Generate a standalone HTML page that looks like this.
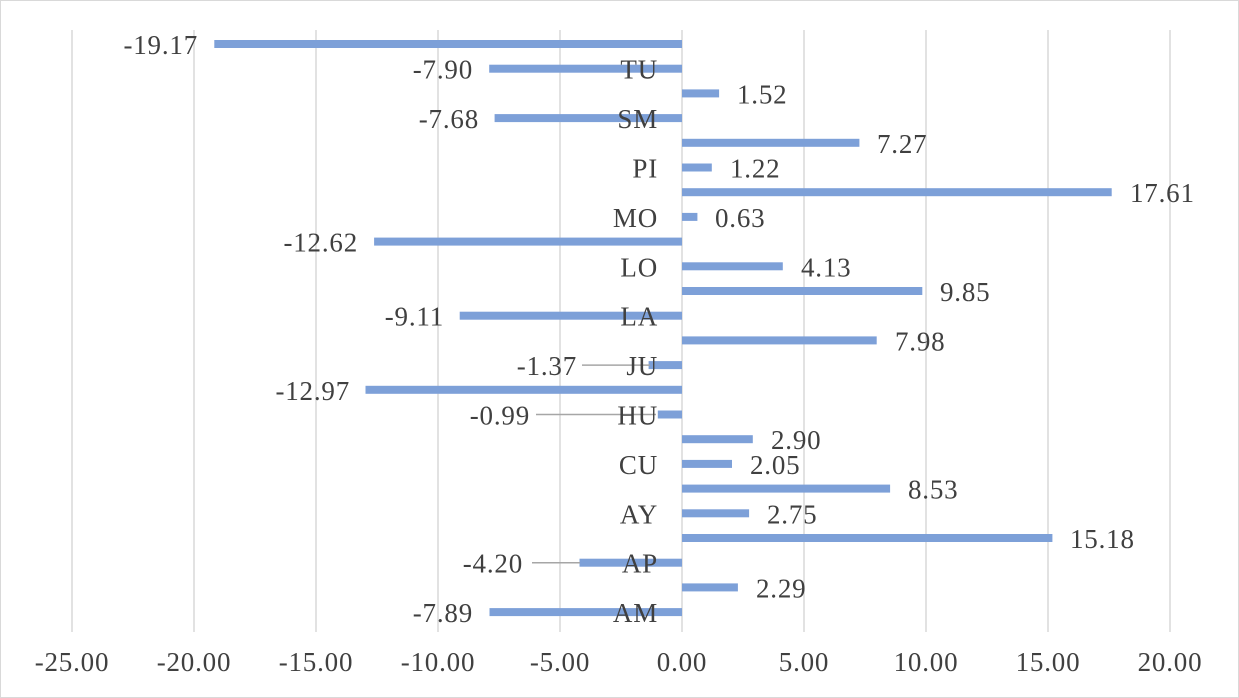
<!DOCTYPE html>
<html><head><meta charset="utf-8"><style>body{margin:0;background:#fff}svg{display:block}</style></head><body>
<svg width="1239" height="698" xmlns="http://www.w3.org/2000/svg" font-family="Liberation Serif, serif" font-size="27" letter-spacing="0.8" fill="#404040">
<rect x="0.5" y="0.5" width="1238" height="697" fill="#fff" stroke="#d9d9d9"/>
<g stroke="#d9d9d9" stroke-width="1.5">
<line x1="72" y1="30" x2="72" y2="632"/><line x1="194" y1="30" x2="194" y2="632"/><line x1="316" y1="30" x2="316" y2="632"/><line x1="438" y1="30" x2="438" y2="632"/><line x1="560" y1="30" x2="560" y2="632"/><line x1="682" y1="30" x2="682" y2="632"/><line x1="804" y1="30" x2="804" y2="632"/><line x1="926" y1="30" x2="926" y2="632"/><line x1="1048" y1="30" x2="1048" y2="632"/><line x1="1170" y1="30" x2="1170" y2="632"/>
</g>
<g text-anchor="middle">
<text x="72" y="671">-25.00</text><text x="194" y="671">-20.00</text><text x="316" y="671">-15.00</text><text x="438" y="671">-10.00</text><text x="560" y="671">-5.00</text><text x="682" y="671">0.00</text><text x="804" y="671">5.00</text><text x="926" y="671">10.00</text><text x="1048" y="671">15.00</text><text x="1170" y="671">20.00</text>
</g>
<g fill="#7da0d8">
<rect x="214.3" y="40" width="467.7" height="8"/>
<rect x="489.2" y="64.7" width="192.8" height="8"/>
<rect x="682" y="89.4" width="37.1" height="8"/>
<rect x="494.6" y="114.1" width="187.4" height="8"/>
<rect x="682" y="138.8" width="177.4" height="8"/>
<rect x="682" y="163.5" width="29.8" height="8"/>
<rect x="682" y="188.2" width="429.7" height="8"/>
<rect x="682" y="212.9" width="15.4" height="8"/>
<rect x="374.1" y="237.6" width="307.9" height="8"/>
<rect x="682" y="262.3" width="100.8" height="8"/>
<rect x="682" y="287" width="240.3" height="8"/>
<rect x="459.7" y="311.7" width="222.3" height="8"/>
<rect x="682" y="336.4" width="194.7" height="8"/>
<rect x="648.6" y="361.1" width="33.4" height="8"/>
<rect x="365.5" y="385.8" width="316.5" height="8"/>
<rect x="657.8" y="410.5" width="24.2" height="8"/>
<rect x="682" y="435.2" width="70.8" height="8"/>
<rect x="682" y="459.9" width="50" height="8"/>
<rect x="682" y="484.6" width="208.1" height="8"/>
<rect x="682" y="509.3" width="67.1" height="8"/>
<rect x="682" y="534" width="370.4" height="8"/>
<rect x="579.5" y="558.7" width="102.5" height="8"/>
<rect x="682" y="583.4" width="55.9" height="8"/>
<rect x="489.5" y="608.1" width="192.5" height="8"/>
</g>
<g stroke="#a6a6a6" stroke-width="1.5">
<line x1="582" y1="365.1" x2="650" y2="365.1"/>
<line x1="536" y1="414.5" x2="656" y2="414.5"/>
<line x1="532" y1="562.7" x2="580" y2="562.7"/>
</g>
<g text-anchor="end">
<text x="658" y="78.7">TU</text><text x="658" y="128.1">SM</text><text x="658" y="177.5">PI</text><text x="658" y="226.9">MO</text><text x="658" y="276.3">LO</text><text x="658" y="325.7">LA</text><text x="658" y="375.1">JU</text><text x="658" y="424.5">HU</text><text x="658" y="473.9">CU</text><text x="658" y="523.3">AY</text><text x="658" y="572.7">AP</text><text x="658" y="622.1">AM</text>
<text x="198" y="54">-19.17</text>
<text x="473" y="78.7">-7.90</text>
<text x="479" y="128.1">-7.68</text>
<text x="358" y="251.6">-12.62</text>
<text x="444" y="325.7">-9.11</text>
<text x="577" y="375.1">-1.37</text>
<text x="350" y="399.8">-12.97</text>
<text x="530" y="424.5">-0.99</text>
<text x="523" y="572.7">-4.20</text>
<text x="473" y="622.1">-7.89</text>
</g>
<g>
<text x="737" y="103.4">1.52</text>
<text x="877" y="152.8">7.27</text>
<text x="730" y="177.5">1.22</text>
<text x="1130" y="202.2">17.61</text>
<text x="715" y="226.9">0.63</text>
<text x="801" y="276.3">4.13</text>
<text x="940" y="301">9.85</text>
<text x="895" y="350.4">7.98</text>
<text x="771" y="449.2">2.90</text>
<text x="750" y="473.9">2.05</text>
<text x="908" y="498.6">8.53</text>
<text x="767" y="523.3">2.75</text>
<text x="1070" y="548">15.18</text>
<text x="756" y="597.4">2.29</text>
</g>
</svg>
</body></html>
